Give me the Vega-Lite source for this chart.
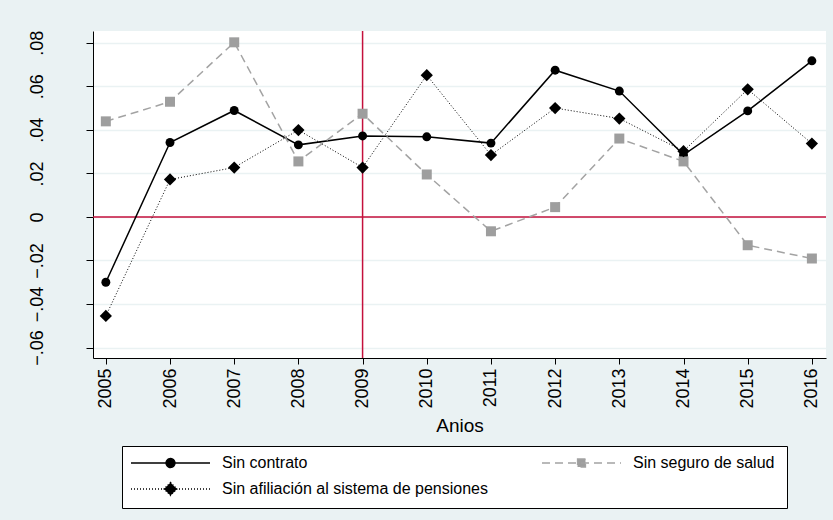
{
  "$schema": "https://vega.github.io/schema/vega-lite/v6.json",
  "background": "#EAF2F3",
  "autosize": {"type": "none"},
  "padding": {"left": 93, "top": 31, "right": 7, "bottom": 162},
  "width": 733,
  "height": 327,
  "data": {
    "values": [
      {"anio": 2005, "serie": "Sin contrato", "valor": -0.0300},
      {"anio": 2006, "serie": "Sin contrato", "valor": 0.0342},
      {"anio": 2007, "serie": "Sin contrato", "valor": 0.0489},
      {"anio": 2008, "serie": "Sin contrato", "valor": 0.0331},
      {"anio": 2009, "serie": "Sin contrato", "valor": 0.0372},
      {"anio": 2010, "serie": "Sin contrato", "valor": 0.0368},
      {"anio": 2011, "serie": "Sin contrato", "valor": 0.0339},
      {"anio": 2012, "serie": "Sin contrato", "valor": 0.0674},
      {"anio": 2013, "serie": "Sin contrato", "valor": 0.0578},
      {"anio": 2014, "serie": "Sin contrato", "valor": 0.0285},
      {"anio": 2015, "serie": "Sin contrato", "valor": 0.0487},
      {"anio": 2016, "serie": "Sin contrato", "valor": 0.0717},
      {"anio": 2005, "serie": "Sin seguro de salud", "valor": 0.0439},
      {"anio": 2006, "serie": "Sin seguro de salud", "valor": 0.0529},
      {"anio": 2007, "serie": "Sin seguro de salud", "valor": 0.0802},
      {"anio": 2008, "serie": "Sin seguro de salud", "valor": 0.0255},
      {"anio": 2009, "serie": "Sin seguro de salud", "valor": 0.0474},
      {"anio": 2010, "serie": "Sin seguro de salud", "valor": 0.0195},
      {"anio": 2011, "serie": "Sin seguro de salud", "valor": -0.0066},
      {"anio": 2012, "serie": "Sin seguro de salud", "valor": 0.0045},
      {"anio": 2013, "serie": "Sin seguro de salud", "valor": 0.0360},
      {"anio": 2014, "serie": "Sin seguro de salud", "valor": 0.0255},
      {"anio": 2015, "serie": "Sin seguro de salud", "valor": -0.0130},
      {"anio": 2016, "serie": "Sin seguro de salud", "valor": -0.0191},
      {"anio": 2005, "serie": "Sin afiliación al sistema de pensiones", "valor": -0.0455},
      {"anio": 2006, "serie": "Sin afiliación al sistema de pensiones", "valor": 0.0172},
      {"anio": 2007, "serie": "Sin afiliación al sistema de pensiones", "valor": 0.0227},
      {"anio": 2008, "serie": "Sin afiliación al sistema de pensiones", "valor": 0.0399},
      {"anio": 2009, "serie": "Sin afiliación al sistema de pensiones", "valor": 0.0227},
      {"anio": 2010, "serie": "Sin afiliación al sistema de pensiones", "valor": 0.0651},
      {"anio": 2011, "serie": "Sin afiliación al sistema de pensiones", "valor": 0.0284},
      {"anio": 2012, "serie": "Sin afiliación al sistema de pensiones", "valor": 0.0500},
      {"anio": 2013, "serie": "Sin afiliación al sistema de pensiones", "valor": 0.0452},
      {"anio": 2014, "serie": "Sin afiliación al sistema de pensiones", "valor": 0.0302},
      {"anio": 2015, "serie": "Sin afiliación al sistema de pensiones", "valor": 0.0586},
      {"anio": 2016, "serie": "Sin afiliación al sistema de pensiones", "valor": 0.0337}
    ]
  },
  "layer": [
    {
      "data": {"values": [{"valor": 0}]},
      "mark": {"type": "rule", "color": "#C4103C", "strokeWidth": 1.5},
      "encoding": {
        "y": {"field": "valor", "type": "quantitative", "title": null,
              "scale": {"domain": [-0.0648, 0.0854], "nice": false, "zero": false},
              "axis": {
                "values": [-0.06, -0.04, -0.02, 0, 0.02, 0.04, 0.06, 0.08],
                "labelExpr": "abs(datum.value) < 1e-9 ? '0' : replace(format(datum.value, '.2f'), '0.', '.')"
              }}
      }
    },
    {
      "data": {"values": [{"anio": 2009}]},
      "mark": {"type": "rule", "color": "#C4103C", "strokeWidth": 1.5},
      "encoding": {
        "x": {"field": "anio", "type": "quantitative", "title": "Anios",
              "scale": {"domain": [2004.8, 2016.22], "nice": false, "zero": false},
              "axis": {
                "values": [2005, 2006, 2007, 2008, 2009, 2010, 2011, 2012, 2013, 2014, 2015, 2016],
                "format": "d"
              }}
      }
    },
    {
      "transform": [{"filter": "datum.serie == 'Sin contrato'"}],
      "mark": {"type": "line", "color": "black", "strokeWidth": 1.5},
      "encoding": {
        "x": {"field": "anio", "type": "quantitative", "title": "Anios", "scale": {"domain": [2004.8, 2016.22], "nice": false, "zero": false}},
        "y": {"field": "valor", "type": "quantitative", "title": null, "scale": {"domain": [-0.0648, 0.0854], "nice": false, "zero": false}}
      }
    },
    {
      "transform": [{"filter": "datum.serie == 'Sin contrato'"}],
      "mark": {"type": "point", "shape": "circle", "filled": true, "color": "black", "opacity": 1, "size": 80},
      "encoding": {
        "x": {"field": "anio", "type": "quantitative", "title": "Anios", "scale": {"domain": [2004.8, 2016.22], "nice": false, "zero": false}},
        "y": {"field": "valor", "type": "quantitative", "title": null, "scale": {"domain": [-0.0648, 0.0854], "nice": false, "zero": false}}
      }
    },
    {
      "transform": [{"filter": "datum.serie == 'Sin seguro de salud'"}],
      "mark": {"type": "line", "color": "#A3A3A3", "strokeWidth": 1.5, "strokeDash": [8, 5]},
      "encoding": {
        "x": {"field": "anio", "type": "quantitative", "title": "Anios", "scale": {"domain": [2004.8, 2016.22], "nice": false, "zero": false}},
        "y": {"field": "valor", "type": "quantitative", "title": null, "scale": {"domain": [-0.0648, 0.0854], "nice": false, "zero": false}}
      }
    },
    {
      "transform": [{"filter": "datum.serie == 'Sin seguro de salud'"}],
      "mark": {"type": "point", "shape": "square", "filled": true, "color": "#9E9E9E", "opacity": 1, "size": 100},
      "encoding": {
        "x": {"field": "anio", "type": "quantitative", "title": "Anios", "scale": {"domain": [2004.8, 2016.22], "nice": false, "zero": false}},
        "y": {"field": "valor", "type": "quantitative", "title": null, "scale": {"domain": [-0.0648, 0.0854], "nice": false, "zero": false}}
      }
    },
    {
      "transform": [{"filter": "datum.serie == 'Sin afiliación al sistema de pensiones'"}],
      "mark": {"type": "line", "color": "black", "strokeWidth": 1, "strokeDash": [1, 2]},
      "encoding": {
        "x": {"field": "anio", "type": "quantitative", "title": "Anios", "scale": {"domain": [2004.8, 2016.22], "nice": false, "zero": false}},
        "y": {"field": "valor", "type": "quantitative", "title": null, "scale": {"domain": [-0.0648, 0.0854], "nice": false, "zero": false}}
      }
    },
    {
      "transform": [{"filter": "datum.serie == 'Sin afiliación al sistema de pensiones'"}],
      "mark": {"type": "point", "shape": "diamond", "filled": true, "color": "black", "opacity": 1, "size": 150},
      "encoding": {
        "x": {"field": "anio", "type": "quantitative", "title": "Anios", "scale": {"domain": [2004.8, 2016.22], "nice": false, "zero": false}},
        "y": {"field": "valor", "type": "quantitative", "title": null, "scale": {"domain": [-0.0648, 0.0854], "nice": false, "zero": false}}
      }
    },
    {
      "transform": [{"filter": "false"}],
      "mark": {"type": "point", "filled": true, "opacity": 1},
      "encoding": {
        "x": {"field": "anio", "type": "quantitative", "title": "Anios", "scale": {"domain": [2004.8, 2016.22], "nice": false, "zero": false}},
        "y": {"field": "valor", "type": "quantitative", "title": null, "scale": {"domain": [-0.0648, 0.0854], "nice": false, "zero": false}},
        "color": {
          "field": "serie", "type": "nominal", "title": null,
          "scale": {
            "domain": ["Sin contrato", "Sin seguro de salud", "Sin afiliación al sistema de pensiones"],
            "range": ["black", "#9E9E9E", "black"]
          },
          "legend": {
            "orient": "none",
            "direction": "horizontal",
            "legendX": 29,
            "legendY": 415,
            "columns": 2,
            "columnPadding": 51,
            "rowPadding": 8,
            "padding": 9,
            "fillColor": "white",
            "strokeColor": "black",
            "cornerRadius": 0,
            "symbolSize": 64,
            "symbolStrokeWidth": 1.3,
            "symbolOpacity": 1,
            "labelFont": "Liberation Sans",
            "labelFontSize": 16,
            "labelColor": "black",
            "labelOffset": 75,
            "labelLimit": 400
          }
        },
        "stroke": {
          "field": "serie", "type": "nominal", "title": null,
          "scale": {
            "domain": ["Sin contrato", "Sin seguro de salud", "Sin afiliación al sistema de pensiones"],
            "range": ["black", "#A3A3A3", "black"]
          }
        },
        "shape": {
          "field": "serie", "type": "nominal", "title": null,
          "scale": {
            "domain": ["Sin contrato", "Sin seguro de salud", "Sin afiliación al sistema de pensiones"],
            "range": [
              "M-2,0H17.75M6.75,0A1.125,1.125 0 1,1 9,0A1.125,1.125 0 1,1 6.75,0Z",
              "M-2,0H17.75M6.875,-1H8.875V1H6.875ZM56.25,0",
              "M-2,0H17.75M7.875,-1.625L9.5,0L7.875,1.625L6.25,0Z"
            ]
          }
        },
        "strokeDash": {
          "field": "serie", "type": "nominal", "title": null,
          "scale": {
            "domain": ["Sin contrato", "Sin seguro de salud", "Sin afiliación al sistema de pensiones"],
            "range": [[1, 0], [8, 5], [1, 2]]
          }
        }
      }
    }
  ],
  "config": {
    "view": {"fill": "white", "stroke": null},
    "font": "Liberation Sans",
    "axis": {
      "labelFont": "Liberation Sans",
      "titleFont": "Liberation Sans",
      "labelColor": "black",
      "titleColor": "black",
      "domainColor": "black",
      "tickColor": "black",
      "domainWidth": 1,
      "tickWidth": 1,
      "labelFlush": false,
      "labelOverlap": false,
      "labelBound": false
    },
    "axisX": {
      "grid": false,
      "labelAngle": -90,
      "labelAlign": "right",
      "labelBaseline": "middle",
      "labelFontSize": 18,
      "labelPadding": 4,
      "tickSize": 6,
      "titleFontSize": 19,
      "titleFontWeight": "normal",
      "titlePadding": 8
    },
    "axisY": {
      "grid": true,
      "gridColor": "#EAF2F3",
      "gridWidth": 1.5,
      "labelAngle": -90,
      "labelAlign": "center",
      "labelBaseline": "bottom",
      "labelFontSize": 18,
      "labelPadding": 40,
      "tickSize": 7
    }
  }
}
